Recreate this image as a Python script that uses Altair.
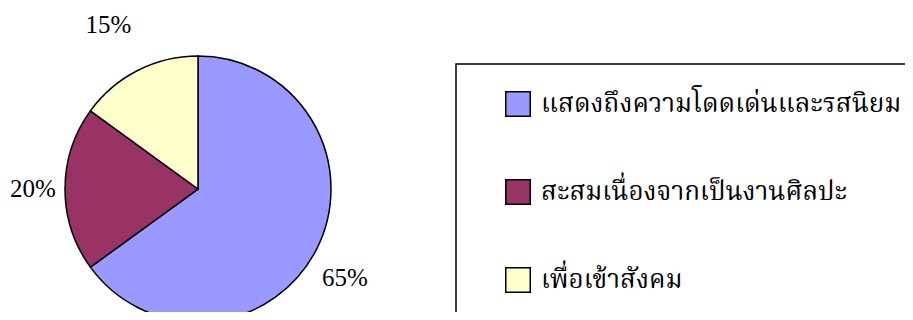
import altair as alt
import pandas as pd

categories = ["แสดงถึงความโดดเด่นและรสนิยม", "สะสมเนื่องจากเป็นงานศิลปะ", "เพื่อเข้าสังคม"]
values = [65, 20, 15]
colors = ["#9999FF", "#993366", "#FFFFCC"]

df = pd.DataFrame({
    "category": categories,
    "value": values,
    "idx": list(range(len(categories))),
    "label": [f"{v}%" for v in values],
})

thai_font = "Noto Serif Thai, Noto Sans Thai, Norasi, Garuda, Loma, Tlwg Typo, Liberation Serif, serif"

cx, cy = 190, 181

base = alt.Chart(df).encode(
    theta=alt.Theta("value:Q", stack=True),
    order=alt.Order("idx:Q"),
    x=alt.value(cx),
    y=alt.value(cy),
)

arc = base.mark_arc(outerRadius=133, stroke="black", strokeWidth=1.5).encode(
    color=alt.Color(
        "category:N",
        scale=alt.Scale(domain=categories, range=colors),
        legend=alt.Legend(
            title=None,
            orient="none",
            legendX=448,
            legendY=56,
            direction="vertical",
            strokeColor="black",
            padding=27,
            symbolType="square",
            symbolSize=600,
            symbolStrokeColor="black",
            symbolStrokeWidth=1.5,
            symbolOffset=22,
            labelFont=thai_font,
            labelFontSize=26,
            labelColor="black",
            labelOffset=10,
            labelLimit=1000,
            rowPadding=56,
        ),
    )
)


def pct_label(i, radius, dx=0, dy=0):
    return base.mark_text(
        radius=radius, dx=dx, dy=dy, font="Liberation Serif", fontSize=25, color="black"
    ).encode(
        text=alt.condition(f"datum.idx == {i}", "label:N", alt.value(""))
    )


labels = [
    pct_label(0, 165, 0, 14),   # 65%
    pct_label(1, 165),          # 20%
    pct_label(2, 184, -6, 0),   # 15%
]

chart = (
    alt.layer(arc, *labels)
    .properties(width=897, height=304, autosize="none", padding=0)
    .configure_view(strokeWidth=0)
    .configure_legend(strokeWidth=1.5, fillColor="white")
)

chart.save("out.html", embed_options={"renderer": "svg", "actions": False})
